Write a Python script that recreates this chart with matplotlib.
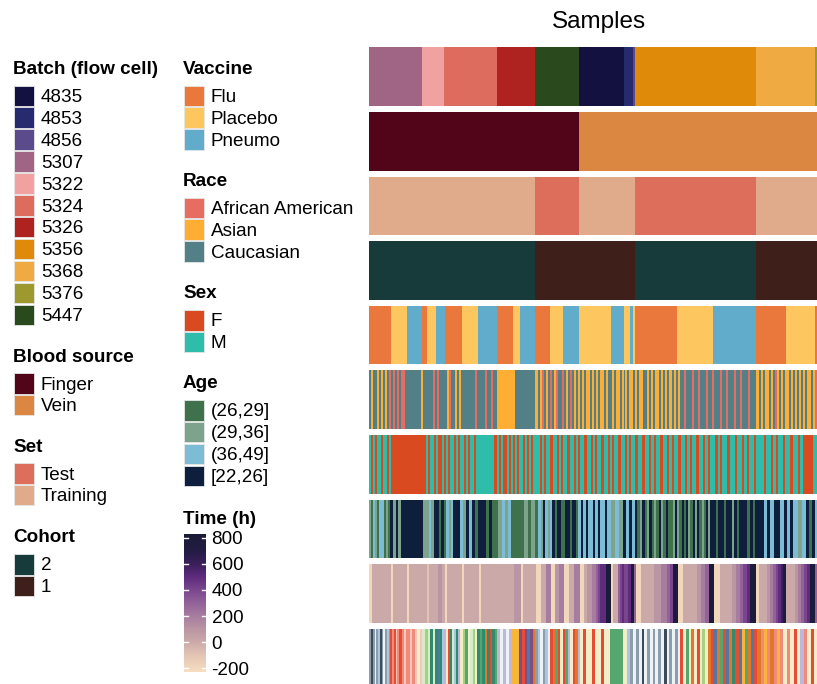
import numpy as np
import matplotlib.pyplot as plt
from matplotlib.colors import ListedColormap, LinearSegmentedColormap
from matplotlib.patches import Rectangle

plt.rcParams["font.family"] = ["Liberation Sans", "DejaVu Sans"]

W, H = 817, 684

# ---- annotation categories: code -> (label, colour) ----
batch_cats = {
    "a": ("4835", "#131140"), "b": ("4853", "#262A6F"), "c": ("4856", "#5B4A8C"),
    "d": ("5307", "#A06585"), "e": ("5322", "#F2A1A1"), "f": ("5324", "#DD6B5E"),
    "g": ("5326", "#AE2320"), "h": ("5356", "#DF8A08"), "i": ("5368", "#EFAA41"),
    "j": ("5376", "#9E992F"), "k": ("5447", "#2A4A1E"),
}
blood_cats = {"F": ("Finger", "#520519"), "V": ("Vein", "#DB8742")}
set_cats = {"E": ("Test", "#DC6E5B"), "T": ("Training", "#E0AB8B")}
cohort_cats = {"2": ("2", "#173A3A"), "1": ("1", "#3E1F1A")}
vaccine_cats = {"F": ("Flu", "#EA783C"), "P": ("Placebo", "#FEC65E"), "N": ("Pneumo", "#62ACCB")}
race_cats = {"R": ("African American", "#E76D63"), "A": ("Asian", "#FEAE33"),
             "C": ("Caucasian", "#537F87")}
sex_cats = {"F": ("F", "#DA4A20"), "M": ("M", "#2EBDAA")}
age_cats = {"g": ("(26,29]", "#3F714D"), "s": ("(29,36]", "#7DA38D"),
            "l": ("(36,49]", "#7CBCD5"), "n": ("[22,26]", "#0E1F3D")}
subject_cats = {
    "G": "#8C9DAD", "K": "#3C4A5A", "B": "#A9C8E0", "W": "#EEF2F5", "R": "#E64B35",
    "S": "#F08A7A", "P": "#F7C6BA", "E": "#D6EBC9", "T": "#2F8A6E", "U": "#4E79A7",
    "Y": "#F3EEC8", "L": "#BDB7DA", "O": "#F9B53A", "M": "#7D4E86", "D": "#E0782A",
    "N": "#55A66F", "H": "#A5D27E",
}
time_codes = {"a": -200, "b": -100, "0": 0, "1": 100, "2": 200, "3": 300,
              "4": 400, "5": 500, "6": 600, "7": 700, "8": 800}

# ---- sample runs: (number of samples, pattern read left to right) ----
batch_runs = [(53, "d"), (22, "e"), (53, "f"), (38, "g"), (44, "k"), (45, "a"),
              (9, "b"), (2, "c"), (121, "h"), (59, "i"), (2, "j")]
blood_runs = [(210, "F"), (238, "V")]
set_runs = [(166, "T"), (44, "E"), (56, "T"), (121, "E"), (61, "T")]
cohort_runs = [(166, "2"), (100, "1"), (121, "2"), (61, "1")]
vaccine_runs = [(22, "F"), (16, "P"), (15, "N"), (5, "F"), (9, "P"), (9, "N"), (17, "F"),
                (16, "P"), (19, "N"), (16, "F"), (7, "P"), (15, "N"), (15, "F"), (13, "P"),
                (16, "N"), (32, "P"), (13, "N"), (6, "P"), (3, "N"), (2, "P"), (42, "F"),
                (36, "P"), (43, "N"), (30, "F"), (29, "P"), (2, "F")]
race_runs = [
    (36, "CACCACACACRCRCRCRR"),
    (92, "CCCCCCCCACCCCCRCRCCCCARCCACACCCCCCCRCCCCRCCRCC"),
    (16, "A"),
    (22, "ACCCCCCCCCC"),
    (43, "ACARCACRCARCCRCACRCAC"),
    (92, "ACACAACACACAACACCACAACACACAACACAACCACACAACACACA"),
    (10, "ACACA"),
    (76, "CCRCCCRCCRCCCRCCRCCCRCCRCCCRCCRCCCRCCC"),
    (61, "ACACAACACRACACAACACACACACAACAR"),
]
sex_runs = [
    (22, "MFMFMMFMMFM"),
    (33, "F"),
    (56, "FMFMMFMFFMFMFMMFMFMMFMFMMFMM"),
    (14, "M"),
    (41, "FMFMFFMFMFMFMMFMFMFM"),
    (100, "MMFMFMMFMMFMFMMFMMFMFMMFMMFMFMMFMMFMFMMFMMFMFMM"),
    (70, "FMMFMMFMFMMFMMFMFMMFMMFMFMMFMMF"),
    (80, "MFMMFMFMMFMMFMMFMFMMFMMMFMMFMFMMF"),
    (32, "MMFMMFMFFFFMM"),
]
age_runs = [
    (12, "sglsgl"), (9, "lgsg"), (16, "nsnsnn"), (17, "n"), (13, "sslsn"), (10, "ngng"),
    (7, "lsl"), (7, "nn"), (6, "ls"), (9, "nln"), (6, "gn"), (5, "n"), (12, "gngg"),
    (13, "slsl"), (13, "g"), (14, "sgsg"), (14, "lsnlsl"), (26, "ngnnggnngnng"),
    (29, "lnlnllnlnlln"), (16, "lsls"), (14, "nlnln"), (33, "gsngsngsgnsgng"),
    (40, "gsnsgngnsgnsngsgns"), (50, "nngnngnnsngnnngngnn"), (33, "nlnlnnlnln"),
    (13, "lsl"), (11, "ngnl"),
]
time_runs = [
    (3, "a"), (19, "0"), (2, "a"), (14, "0"), (2, "a"), (18, "000"), (2, "b"),
    (17, "0010"), (2, "a"), (15, "0"), (2, "a"), (15, "0"), (2, "a"), (17, "0"),
    (23, "001"), (2, "a"), (13, "0"), (5, "a"), (5, "0"), (5, "2"), (4, "a"), (4, "1"),
    (5, "2"), (5, "a"), (5, "0"), (6, "2"), (4, "a"), (10, "0112"), (9, "2345"),
    (4, "5"), (5, "8"), (2, "a"), (5, "0"), (6, "345"), (7, "45"), (3, "8"), (2, "3"),
    (5, "a"), (17, "0001"), (15, "12234"), (5, "8"), (5, "a"), (18, "0001"), (8, "23"),
    (5, "8"), (6, "a"), (16, "0001"), (15, "2345"), (6, "8"), (3, "a"), (11, "001"),
    (13, "23456"), (3, "8"), (12, "0001"), (12, "2345"), (5, "8"), (2, "3"),
]
subject_runs = [
    (21, "GKGWGBKGWGBG"), (17, "RSRPSRRSPS"), (15, "SPSPYP"), (13, "EHETE"),
    (25, "TUTBLYRTEBTL"), (17, "YHNYEHY"), (20, "TNTDTRTN"), (15, "LWLWL"), (7, "O"),
    (16, "MRMUMD"), (15, "GBWGBW"), (10, "RDNR"), (20, "YRNLYRDL"), (30, "YRYYRYYRYY"),
    (13, "N"), (7, "YB"), (50, "GWGWKWGWGWGWKWGWGW"), (33, "RYNYDYRYHYDR"),
    (44, "UDNRUDTRUONDUR"), (26, "DSOSDSOS"), (34, "YSYRYLSYRY"),
]

time_cmap = LinearSegmentedColormap.from_list("time", [
    (0.0, "#F6DEBF"), (0.123, "#E2C4B4"), (0.217, "#CCA9A9"), (0.311, "#BA95A3"),
    (0.406, "#A77D9F"), (0.5, "#93639A"), (0.594, "#7A478F"), (0.689, "#5F2C7E"),
    (0.783, "#3C1F5C"), (0.877, "#241C45"), (1.0, "#1A1B36"),
])
T_MIN, T_MAX = -230, 830
FS = 13.6


def expand(runs):
    seq = []
    for n, pat in runs:
        idx = (np.arange(n) * len(pat)) // n
        seq.extend(pat[i] for i in idx)
    return seq


def px_axes(fig, x0, y0, x1, y1):
    return fig.add_axes([x0 / W, 1 - y1 / H, (x1 - x0) / W, (y1 - y0) / H])


fig = plt.figure(figsize=(W / 100, H / 100), dpi=100)

# legend / title layer in pixel coordinates
lay = fig.add_axes([0, 0, 1, 1])
lay.set_xlim(0, W)
lay.set_ylim(H, 0)
lay.axis("off")
lay.text(599, 22, "Samples", ha="center", va="center", fontsize=17.5)

rows = [
    (batch_runs, batch_cats), (blood_runs, blood_cats), (set_runs, set_cats),
    (cohort_runs, cohort_cats), (vaccine_runs, vaccine_cats), (race_runs, race_cats),
    (sex_runs, sex_cats), (age_runs, age_cats), ("time", None), (subject_runs, None),
]
top, pitch, row_h = 47.3, 64.6, 58.7
for k, (runs, cats) in enumerate(rows):
    y0 = top + k * pitch
    ax = px_axes(fig, 369, y0, 817, min(y0 + row_h, H))
    if runs == "time":
        seq = expand(time_runs)
        vals = np.array([time_codes[c] for c in seq], dtype=float)[None, :]
        ax.imshow(vals, cmap=time_cmap, vmin=T_MIN, vmax=T_MAX, aspect="auto",
                  interpolation="nearest", extent=[0, vals.shape[1], 0, 1])
    else:
        if cats is None:
            keys = list(subject_cats)
            colors = [subject_cats[c] for c in keys]
        else:
            keys = list(cats)
            colors = [cats[c][1] for c in keys]
        seq = expand(runs)
        vals = np.array([keys.index(c) for c in seq])[None, :]
        ax.imshow(vals, cmap=ListedColormap(colors), vmin=-0.5, vmax=len(keys) - 0.5,
                  aspect="auto", interpolation="nearest", extent=[0, vals.shape[1], 0, 1])
    ax.set_axis_off()


def legend_block(x, y_title, cats, y_first, step=21.9):
    lay.text(x, y_title + 2, cats[0], ha="left", va="center", fontsize=FS,
             fontweight="bold")
    for i, (lab, col) in enumerate(cats[1]):
        yc = y_first + i * step
        lay.add_patch(Rectangle((x + 1, yc - 10), 20.5, 20.5, facecolor=col,
                                edgecolor="#E6E6E6", linewidth=0.6))
        lay.text(x + 28, yc + 2, lab, ha="left", va="center", fontsize=FS)


def entries(title, cats):
    return (title, [cats[c] for c in cats])


legend_block(13, 67, entries("Batch (flow cell)", batch_cats), 95.5)
legend_block(13, 355, entries("Blood source", blood_cats), 383)
legend_block(13, 445, entries("Set", set_cats), 473)
legend_block(13, 536, entries("Cohort", cohort_cats), 564)
legend_block(183, 67, entries("Vaccine", vaccine_cats), 95.5)
legend_block(183, 180, entries("Race", race_cats), 207.5)
legend_block(183, 292, entries("Sex", sex_cats), 320)
legend_block(183, 382, entries("Age", age_cats), 410)
lay.text(183, 519, "Time (h)", ha="left", va="center", fontsize=FS, fontweight="bold")

# colourbar for Time
cax = px_axes(fig, 184, 534, 206, 672)
grad = np.linspace(T_MIN, T_MAX, 300)[:, None]
cax.imshow(grad, cmap=time_cmap, vmin=T_MIN, vmax=T_MAX, aspect="auto", origin="lower",
           extent=[0, 1, T_MIN, T_MAX])
time_ticks = [-200, 0, 200, 400, 600, 800]
for t in time_ticks:
    cax.plot([0, 0.2], [t, t], color="white", lw=1)
    cax.plot([0.8, 1], [t, t], color="white", lw=1)
cax.set_xlim(0, 1)
cax.set_ylim(T_MIN, T_MAX)
cax.set_xticks([])
cax.yaxis.tick_right()
cax.set_yticks(time_ticks)
cax.set_yticklabels([str(t) for t in time_ticks], fontsize=FS)
cax.tick_params(axis="y", length=0, pad=4)
for s in cax.spines.values():
    s.set_visible(False)

fig.savefig("out.png", dpi=100)
